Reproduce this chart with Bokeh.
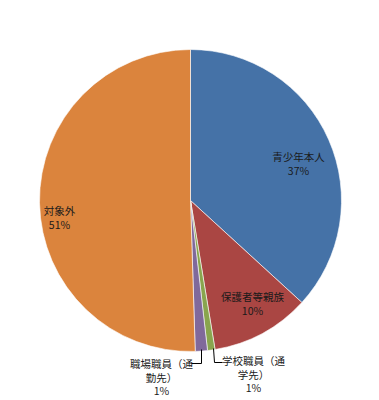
import math
from bokeh.plotting import figure
from bokeh.models import Range1d
from bokeh.core.properties import value
from bokeh.embed import file_html
from bokeh.resources import INLINE

# ---- data ----
categories = ["青少年本人", "保護者等親族", "学校職員（通学先）", "職場職員（通勤先）", "対象外"]
shares = [36.8, 10.6, 0.8, 1.3, 50.5]
pct_labels = ["37%", "10%", "1%", "1%", "51%"]
label_lines = [["青少年本人"], ["保護者等親族"], ["学校職員（通", "学先）"], ["職場職員（通", "勤先）"], ["対象外"]]
colors = ["#4572A7", "#AA4643", "#89A54E", "#80699B", "#DB843D"]

# ---- layout (image coords, y down) ----
W, H = 379, 400
cx, cy, R = 190, 200, 151
label_pos = [(298, 156), (252, 296), (253, 360), (161, 363), (59, 210)]
line_step = 13.5

def Y(img_y):
    return H - img_y

p = figure(width=W, height=H, output_backend="svg", toolbar_location=None,
           x_range=Range1d(0, W), y_range=Range1d(0, H),
           min_border=0, outline_line_color=None)
p.axis.visible = False
p.grid.visible = False
p.background_fill_color = "white"

total = sum(shares)
cum = 0.0
starts, ends = [], []
for s in shares:
    c0 = cum / total
    cum += s
    c1 = cum / total
    starts.append(math.pi / 2 - 2 * math.pi * c1)
    ends.append(math.pi / 2 - 2 * math.pi * c0)

p.wedge(x=[cx] * len(shares), y=[Y(cy)] * len(shares), radius=R,
        start_angle=starts, end_angle=ends, fill_color=colors,
        line_color="white", line_width=0.6)

# labels
for (lx, ly), lines, pct in zip(label_pos, label_lines, pct_labels):
    all_lines = lines + [pct]
    xs = [lx] * len(all_lines)
    ys = [Y(ly + i * line_step) for i in range(len(all_lines))]
    p.text(x=xs, y=ys, text=all_lines, text_font=value("Noto Sans CJK JP"),
           text_font_size="10.5px", text_color="#1a1a1a",
           text_align="center", text_baseline="middle")

# leader lines
p.line(x=[191, 201, 201], y=[Y(363), Y(363), Y(349)], line_color="#000000", line_width=1)
p.line(x=[222, 214, 213], y=[Y(362), Y(362), Y(348)], line_color="#000000", line_width=1)

open("out.html", "w").write(file_html(p, INLINE))
